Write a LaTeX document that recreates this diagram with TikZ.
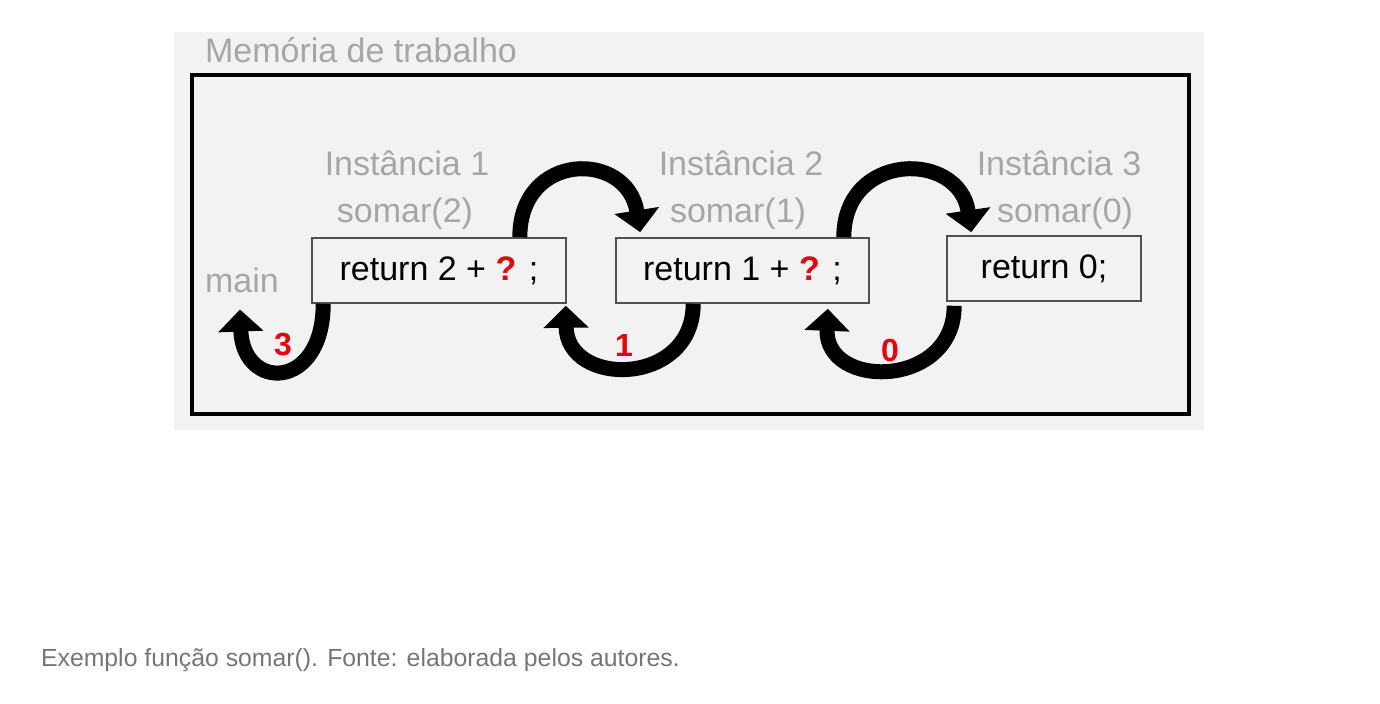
\documentclass[tikz,border=0pt]{standalone}
\usepackage{fontspec}
\setmainfont{Liberation Sans}
\usetikzlibrary{arrows.meta,calc}

\definecolor{panelgray}{HTML}{F2F2F2}
\definecolor{labelgray}{HTML}{A6A6A6}
\definecolor{boxline}{HTML}{505050}
\definecolor{qred}{HTML}{E8000B}
\definecolor{capgray}{HTML}{767676}

\begin{document}
\begin{tikzpicture}[x=0.5pt,y=-0.5pt,
    retbox/.style={draw=boxline,line width=0.8pt,fill=panelgray,minimum height=32.5pt,inner sep=0pt,font=\fontsize{17}{20}\selectfont},
    grey/.style={text=labelgray,font=\fontsize{17}{20}\selectfont},
    num/.style={text=qred,font=\fontsize{16}{19}\selectfont\bfseries},
    bigarrow/.style={line width=7.5pt,-{Triangle[length=11pt,width=22pt]}}]
    \useasboundingbox (0,0) rectangle (1380,704);
    \fill[panelgray] (174,32) rectangle (1204,430);
    \draw[line width=1.6pt] (192,75) rectangle (1189,414);

    \node[grey,anchor=west] (title) at (198,50) {Memória de trabalho};

    \node[retbox,minimum width=127pt] (ret1) at (439,270.5) {return 2 + {\color{qred}\textbf{?}} ;\hspace{4pt}};
    \node[retbox,minimum width=126.5pt] (ret2) at (742.5,270.5) {return 1 + {\color{qred}\textbf{?}} ;\hspace{3pt}};
    \node[retbox,minimum width=97pt] (ret3) at (1044,268.5) {return 0;\hspace{20pt}};

    \node[grey] (inst1) at (407,163) {Instância 1};
    \node[grey] (inst2) at (741,163) {Instância 2};
    \node[grey] (inst3) at (1059,163) {Instância 3};
    \node[grey] (call1) at (405,214) {somar(2)};
    \node[grey] (call2) at (738,214) {somar(1)};
    \node[grey] (call3) at (1065,214) {somar(0)};
    \node[grey] (main) at (242,280) {main};

    \draw[bigarrow] ($(ret1.north east)+(-47,0)$) .. controls +(0,-86) and +(-13,-82) .. ($(ret2.north west)+(25,-5)$);
    \draw[bigarrow] ($(ret2.north east)+(-26,0)$) .. controls +(0,-86) and +(-12,-82) .. ($(ret3.north west)+(25,-3)$);
    \draw[bigarrow] ($(ret1.south west)+(12,0)$) .. controls +(0,87) and +(3,82) .. ($(main.south)+(-2,10)$);
    \draw[bigarrow] ($(ret2.south west)+(78,0)$) .. controls +(0,83) and +(1,82) .. ($(ret1.south east)+(-1,2)$);
    \draw[bigarrow] ($(ret3.south west)+(8,4)$) .. controls +(0,83) and +(-3,81) .. ($(ret2.south east)+(-42,5)$);

    \node[num] (val3) at (283,345) {3};
    \node[num] (val1) at (624,345) {1};
    \node[num] (val0) at (890,350) {0};

    \node[text=capgray,anchor=west,font=\fontsize{12.4}{14}\selectfont] (caption) at (34,660) {Exemplo função somar(). Fonte: elaborada pelos autores.};
\end{tikzpicture}
\end{document}
